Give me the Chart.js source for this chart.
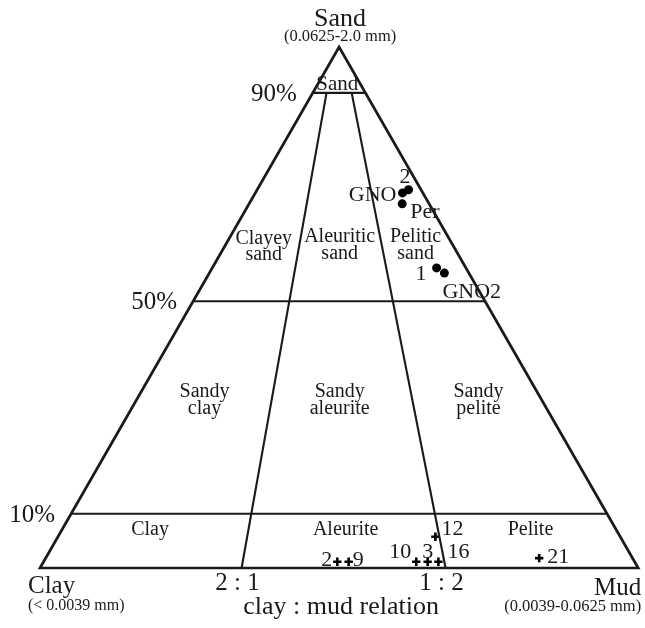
<!DOCTYPE html>
<html>
<head>
<meta charset="utf-8">
<script src="https://cdn.jsdelivr.net/npm/chart.js@4"></script>
<style>
  html, body { margin: 0; padding: 0; background: #fff; }
  canvas { display: block; background: #fff; }
</style>
</head>
<body>
<canvas id="myChart" width="645" height="628"></canvas>
<script>
// samples drawn as dots (sand / clay / mud, %)
const dotNames = ["2", "GNO", "Per", "1", "GNO2"];
const dotSand = [72.6, 72.0, 69.9, 57.6, 56.6];
const dotClay = [2.1, 3.4, 4.5, 4.9, 4.1];
const dotMud = [25.3, 24.6, 25.6, 37.5, 39.3];

// samples drawn as crosses
const crossNames = ["2", "9", "10", "3", "16", "12", "21"];
const crossSand = [1.2, 1.2, 1.2, 1.2, 1.2, 6.0, 1.9];
const crossClay = [49.7, 47.8, 36.5, 34.6, 32.8, 30.9, 15.6];
const crossMud = [49.1, 51.0, 62.3, 64.2, 66.0, 63.1, 82.5];

// horizontal sand levels as drawn in the figure
const levelNames = ["10%", "50%", "90%"];
const levelSand = [10.4, 51.2, 91.2];

// clay : mud dividers (base point, end point on the 90% line)
const ratioNames = ["2 : 1", "1 : 2"];
const ratioBase = [33.7, 67.8];
const ratioTop = [47.9, 52.1];

// ternary -> x/y (x along clay-mud base, y = sand)
function toXY(sand, clay, mud) {
  const t = sand + clay + mud;
  return { x: (mud + sand / 2) / t * 100, y: sand / t * 100 };
}

const FONT = '"Liberation Serif", "Times New Roman", serif';
const INK = "#1a1a1a";

const datasets = [];

// frame (base drawn twice so every corner gets a join)
const clayC = toXY(0, 100, 0), mudC = toXY(0, 0, 100), sandC = toXY(100, 0, 0);
datasets.push({
  data: [clayC, mudC, sandC, clayC, mudC],
  showLine: true, borderColor: INK, borderWidth: 2.7,
  borderJoinStyle: "miter", pointRadius: 0, clip: false,
});

levelSand.forEach((s) => {
  datasets.push({
    data: [{ x: s / 2, y: s }, { x: 100 - s / 2, y: s }],
    showLine: true, borderColor: INK, borderWidth: 2.1, pointRadius: 0, clip: false,
  });
});

ratioBase.forEach((b, i) => {
  datasets.push({
    data: [{ x: b, y: 0 }, { x: ratioTop[i], y: levelSand[2] }],
    showLine: true, borderColor: INK, borderWidth: 2.1, pointRadius: 0, clip: false,
  });
});

const dotIndex = datasets.length;
datasets.push({
  data: dotNames.map((n, i) => toXY(dotSand[i], dotClay[i], dotMud[i])),
  showLine: false, pointStyle: "circle", pointRadius: 4.5,
  backgroundColor: "#000", borderColor: "#000", borderWidth: 0, clip: false,
});

const crossIndex = datasets.length;
datasets.push({
  data: crossNames.map((n, i) => toXY(crossSand[i], crossClay[i], crossMud[i])),
  showLine: false, pointStyle: "cross", pointRadius: 4.2,
  borderColor: "#000", borderWidth: 2.6, clip: false,
});

// label layout: [dx, dy, align]
const dotLabelPos = [[-9, -7, "left"], [-6, 8, "right"], [8, 14, "left"], [-10, 12, "right"], [-2, 25, "left"]];
const crossLabelPos = [[-5, 4, "right"], [4, 4, "left"], [-5, -4, "right"], [0, -4, "center"], [9, -4, "left"], [6, -2, "left"], [8, 5, "left"]];

const regionLabels = [
  { lines: ["Sand"], x: 49.7, y: 91.7, size: 21 },
  { lines: ["Clayey", "sand"], x: 37.4, y: 62.2, size: 20 },
  { lines: ["Aleuritic", "sand"], x: 50.1, y: 62.5, size: 20 },
  { lines: ["Pelitic", "sand"], x: 62.8, y: 62.5, size: 20 },
  { lines: ["Sandy", "clay"], x: 27.5, y: 32.8, size: 20 },
  { lines: ["Sandy", "aleurite"], x: 50.1, y: 32.8, size: 20 },
  { lines: ["Sandy", "pelite"], x: 73.3, y: 32.8, size: 20 },
  { lines: ["Clay"], x: 18.4, y: 6.3, size: 20 },
  { lines: ["Aleurite"], x: 51.1, y: 6.3, size: 20 },
  { lines: ["Pelite"], x: 82.0, y: 6.3, size: 20 },
];

function txt(ctx, s, px, py, size, align) {
  ctx.font = size + "px " + FONT;
  ctx.textAlign = align || "center";
  ctx.textBaseline = "alphabetic";
  ctx.fillText(s, px, py);
}

const textPlugin = {
  id: "texts",
  afterDatasetsDraw(chart) {
    const { ctx, chartArea: a, scales: { x, y } } = chart;
    ctx.save();
    ctx.fillStyle = INK;

    // corner titles
    const midX = (a.left + a.right) / 2;
    txt(ctx, "Sand", midX + 1, a.top - 21, 26);
    txt(ctx, "(0.0625-2.0 mm)", midX + 1, a.top - 6, 16.5);
    txt(ctx, "Clay", a.left - 12, a.bottom + 25, 25, "left");
    txt(ctx, "(< 0.0039 mm)", a.left - 12, a.bottom + 42, 16, "left");
    txt(ctx, "Mud", a.right + 3, a.bottom + 27, 25, "right");
    txt(ctx, "(0.0039-0.0625 mm)", a.right + 3, a.bottom + 43, 16.5, "right");
    txt(ctx, "clay : mud relation", midX + 2, a.bottom + 46, 26);

    // ratio labels under the base
    ratioNames.forEach((n, i) => {
      txt(ctx, n, x.getPixelForValue(ratioBase[i]) - 4, a.bottom + 22, 25);
    });

    // level labels left of the frame
    levelNames.forEach((n, i) => {
      const s = levelSand[i];
      txt(ctx, n, x.getPixelForValue(s / 2) - 16, y.getPixelForValue(s) + 8, 25, "right");
    });

    // field names
    regionLabels.forEach((r) => {
      const px = x.getPixelForValue(r.x);
      const py = y.getPixelForValue(r.y);
      r.lines.forEach((l, k) => txt(ctx, l, px, py + k * 16.5, r.size));
    });

    // sample names
    const dm = chart.getDatasetMeta(dotIndex).data;
    dotNames.forEach((n, i) => {
      const p = dotLabelPos[i];
      txt(ctx, n, dm[i].x + p[0], dm[i].y + p[1], 22, p[2]);
    });
    const cm = chart.getDatasetMeta(crossIndex).data;
    crossNames.forEach((n, i) => {
      const p = crossLabelPos[i];
      txt(ctx, n, cm[i].x + p[0], cm[i].y + p[1], 22, p[2]);
    });
    ctx.restore();
  },
};

const ctx = document.getElementById("myChart").getContext("2d");
const chart = new Chart(ctx, {
  type: "scatter",
  data: { datasets: datasets },
  options: {
    responsive: false,
    animation: false,
    events: [],
    layout: { padding: { left: 40, right: 6, top: 47, bottom: 60 } },
    scales: {
      x: { type: "linear", min: 0, max: 100, display: false },
      y: { type: "linear", min: 0, max: 100, display: false },
    },
    plugins: { legend: { display: false }, tooltip: { enabled: false } },
  },
  plugins: [textPlugin],
});
</script>
</body>
</html>
